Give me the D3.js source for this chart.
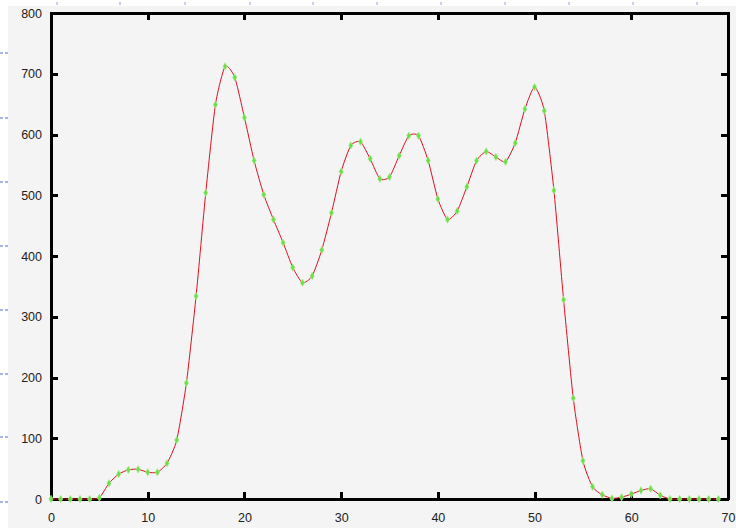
<!DOCTYPE html>
<html>
<head>
<meta charset="utf-8">
<script src="https://cdn.jsdelivr.net/npm/d3@7"></script>
<style>
  body { margin: 0; background: #fff; }
  svg { display: block; }
  .tick text { font-family: "Liberation Sans", Arial, sans-serif; font-size: 12.5px; fill: #222; }
</style>
</head>
<body>
<svg width="736" height="528"></svg>
<script>
// data
var xs = d3.range(0, 70);
var counts = [0, 0, 0, 0, 0, 2, 26, 41, 48, 49,
  44, 44, 59, 97, 191, 334, 504, 649, 712, 694,
  628, 557, 501, 460, 422, 381, 356, 367, 410, 471,
  539, 582, 588, 560, 527, 530, 565, 598, 598, 557,
  494, 460, 474, 514, 557, 572, 563, 555, 586, 642,
  678, 639, 508, 328, 166, 63, 20, 7, 1, 3,
  8, 14, 17, 6, 0, 0, 0, 0, 0, 0];
var xTicks = [0, 10, 20, 30, 40, 50, 60, 70];
var yTicks = [0, 100, 200, 300, 400, 500, 600, 700, 800];

var svg = d3.select("svg"),
  width = +svg.attr("width"),
  height = +svg.attr("height");

// page background with the white strip on the left and top
svg.append("rect").attr("width", width).attr("height", height).attr("fill", "#f4f4f4");
svg.append("rect").attr("width", 8).attr("height", height).attr("fill", "#fff");
svg.append("rect").attr("width", width).attr("height", 6).attr("fill", "#fff");
[53, 118, 182, 246, 310, 374, 437, 502].forEach(function(y) {
  svg.append("rect").attr("x", 0).attr("y", y - 1).attr("width", 3).attr("height", 2).attr("fill", "#aab4e8");
  svg.append("rect").attr("x", 5).attr("y", y - 1).attr("width", 3).attr("height", 2).attr("fill", "#aab4e8");
});
[57, 120, 185, 250, 313, 377, 441, 505, 569, 633, 697].forEach(function(x) {
  svg.append("rect").attr("x", x - 1).attr("y", 2).attr("width", 2).attr("height", 3).attr("fill", "#c8d0f0");
});

var x = d3.scaleLinear().domain([0, 70]).range([51, 728]);
var y = d3.scaleLinear().domain([0, 800]).range([499, 13]);

// tick labels
svg.append("g").attr("transform", "translate(0,499)")
  .call(d3.axisBottom(x).tickValues(xTicks).tickSize(0).tickPadding(14))
  .call(function(g) { g.select(".domain").remove(); });
svg.append("g").attr("transform", "translate(51,0)")
  .call(d3.axisLeft(y).tickValues(yTicks).tickSize(0).tickPadding(9))
  .call(function(g) { g.select(".domain").remove(); });

// frame, four bars
var fr = svg.append("g").attr("fill", "#000");
fr.append("rect").attr("x", x(0) - 1).attr("y", y(800) - 1).attr("width", x(70) - x(0) + 2).attr("height", 3);
fr.append("rect").attr("x", x(0) - 1).attr("y", y(0) - 1).attr("width", x(70) - x(0) + 2).attr("height", 3);
fr.append("rect").attr("x", x(0) - 1).attr("y", y(800) - 1).attr("width", 3).attr("height", y(0) - y(800) + 2);
fr.append("rect").attr("x", x(70) - 1).attr("y", y(800) - 1).attr("width", 3).attr("height", y(0) - y(800) + 2);

// inward tick marks on all four sides
xTicks.slice(1, -1).forEach(function(v) {
  var px = Math.round(x(v));
  fr.append("rect").attr("x", px - 1).attr("y", y(0) - 7).attr("width", 3).attr("height", 7);
  fr.append("rect").attr("x", px - 1).attr("y", y(800)).attr("width", 3).attr("height", 7);
});
yTicks.slice(1, -1).forEach(function(v) {
  var py = Math.round(y(v));
  fr.append("rect").attr("x", x(0)).attr("y", py - 1).attr("width", 7).attr("height", 3);
  fr.append("rect").attr("x", x(70) - 7).attr("y", py - 1).attr("width", 7).attr("height", 3);
});

var line = d3.line()
  .x(function(d, i) { return x(xs[i]); })
  .y(function(d) { return y(d); })
  .curve(d3.curveCardinal.tension(0.4));

svg.append("path")
  .datum(counts)
  .attr("d", line)
  .attr("fill", "none")
  .attr("stroke", "#dd1020")
  .attr("stroke-width", 1);

svg.append("g").selectAll("path")
  .data(counts)
  .enter().append("path")
    .attr("transform", function(d, i) { return "translate(" + x(xs[i]) + "," + y(d) + ")"; })
    .attr("d", d3.symbol(d3.symbolDiamond, 16))
    .attr("fill", "#6ddc4a")
    .attr("stroke", "#a8f08c")
    .attr("stroke-width", 0.6);
</script>
</body>
</html>
